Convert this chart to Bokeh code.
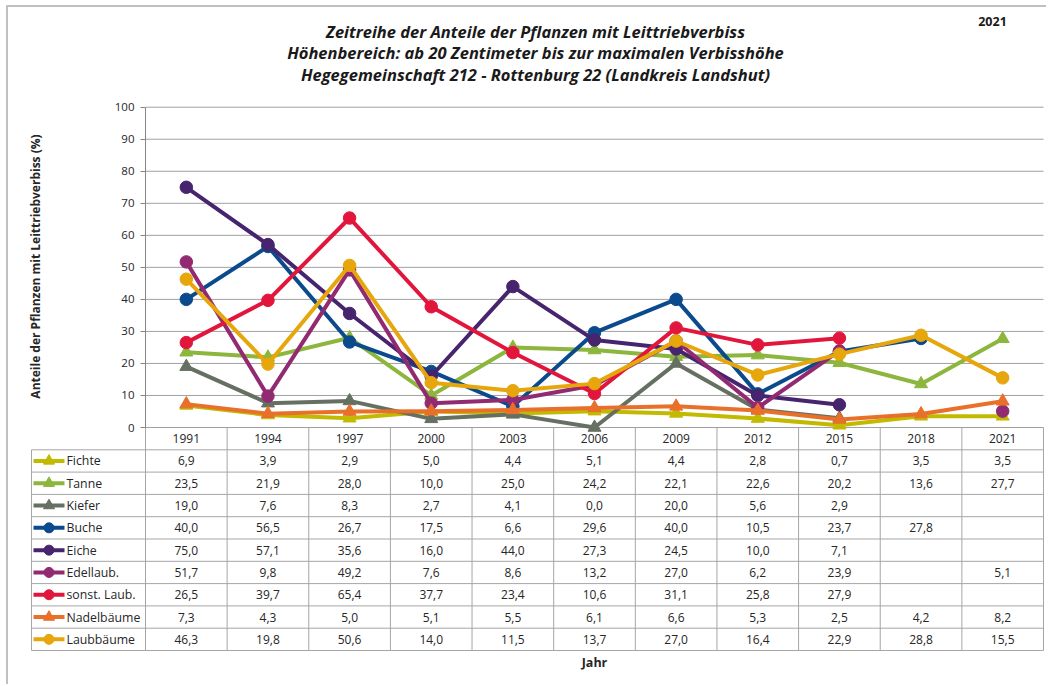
import math
from bokeh.plotting import figure
from bokeh.models import Range1d, FixedTicker, ColumnDataSource
from bokeh.embed import file_html
from bokeh.resources import INLINE
from bokeh.core.properties import value

# ---------------- data ----------------
years = ["1991", "1994", "1997", "2000", "2003", "2006", "2009", "2012", "2015", "2018", "2021"]
fichte = [6.9, 3.9, 2.9, 5.0, 4.4, 5.1, 4.4, 2.8, 0.7, 3.5, 3.5]
tanne = [23.5, 21.9, 28.0, 10.0, 25.0, 24.2, 22.1, 22.6, 20.2, 13.6, 27.7]
kiefer = [19.0, 7.6, 8.3, 2.7, 4.1, 0.0, 20.0, 5.6, 2.9, None, None]
buche = [40.0, 56.5, 26.7, 17.5, 6.6, 29.6, 40.0, 10.5, 23.7, 27.8, None]
eiche = [75.0, 57.1, 35.6, 16.0, 44.0, 27.3, 24.5, 10.0, 7.1, None, None]
edellaub = [51.7, 9.8, 49.2, 7.6, 8.6, 13.2, 27.0, 6.2, 23.9, None, 5.1]
sonst_laub = [26.5, 39.7, 65.4, 37.7, 23.4, 10.6, 31.1, 25.8, 27.9, None, None]
nadelbaeume = [7.3, 4.3, 5.0, 5.1, 5.5, 6.1, 6.6, 5.3, 2.5, 4.2, 8.2]
laubbaeume = [46.3, 19.8, 50.6, 14.0, 11.5, 13.7, 27.0, 16.4, 22.9, 28.8, 15.5]

series_names = ["Fichte", "Tanne", "Kiefer", "Buche", "Eiche", "Edellaub.",
                "sonst. Laub.", "Nadelbäume", "Laubbäume"]
series_values = [fichte, tanne, kiefer, buche, eiche, edellaub, sonst_laub, nadelbaeume, laubbaeume]
series_colors = ["#C2BA00", "#8DB63C", "#667062", "#0B4A8C", "#46246E", "#922A72",
                 "#E2163C", "#E8702A", "#E6A60C"]
series_markers = ["triangle", "triangle", "triangle", "circle", "circle", "circle",
                  "circle", "triangle", "circle"]

title_lines = ["Zeitreihe der Anteile der Pflanzen mit Leittriebverbiss",
               "Höhenbereich: ab 20 Zentimeter bis zur maximalen Verbisshöhe",
               "Hegegemeinschaft 212 - Rottenburg 22 (Landkreis Landshut)"]
corner_label = "2021"
y_label = "Anteile der Pflanzen mit Leittriebverbiss (%)"
x_label = "Jahr"
y_ticks = [0, 10, 20, 30, 40, 50, 60, 70, 80, 90, 100]

FONT = "Open Sans"
TEXT_COL = "#262626"
GRID_COL = "#A0A0A0"
TLINE = "#A6A6A6"
BORDER_COL = "#C0C0C0"

nan = float("nan")
xs = list(range(len(years)))
n_rows = len(series_names)

# ---------------- layout constants (page pixels) ----------------
OFF = 0                 # page offset of canvas
W, H = 1046, 684
U = 898 / 11.0          # px per category
PLOT_LEFT = 145         # page x of category area left edge
Y0_PAGE, Y100_PAGE = 427.0, 106.7
PX_Y = (Y0_PAGE - Y100_PAGE) / 100.0
ROW = 22.3              # table row height (px)

def xd(page_x):
    return -0.5 + (page_x - PLOT_LEFT) / U

def yd(page_y):
    return (Y0_PAGE - page_y) / PX_Y

def row_y(r):
    return -r * ROW / PX_Y

p = figure(width=W, height=H,
           x_range=Range1d(xd(OFF), xd(OFF + W)),
           y_range=Range1d(yd(OFF + H), yd(OFF)),
           min_border_left=0, min_border_right=0, min_border_top=0, min_border_bottom=0,
           x_axis_location=None, y_axis_location="left", toolbar_location=None,
           output_backend="svg", outline_line_color=None,
           background_fill_color="white", border_fill_color="white")
p.xgrid.visible = False
p.ygrid.visible = False

# outer chart border (top and left edges visible)
p.segment(x0=[xd(6), xd(6.5)], y0=[yd(5.5), yd(5)], x1=[xd(W + 10), xd(6.5)], y1=[yd(5.5), yd(H + 10)],
          line_color=BORDER_COL, line_width=2)

yax = p.yaxis[0]
yax.fixed_location = -0.5
yax.bounds = (0, 100)
yax.ticker = FixedTicker(ticks=y_ticks)
yax.axis_line_color = "#868686"
yax.major_tick_line_color = "#868686"
yax.major_tick_out = 5
yax.major_tick_in = 0
yax.minor_tick_line_color = None
yax.major_label_standoff = 6
yax.major_label_text_font = FONT
yax.major_label_text_font_size = "11.5px"
yax.major_label_text_color = TEXT_COL

right_edge = -0.5 + len(years)
# horizontal grid lines of the value axis
p.segment(x0=[-0.5] * len(y_ticks), y0=y_ticks, x1=[right_edge] * len(y_ticks), y1=y_ticks,
          line_color=GRID_COL, line_width=1)

# ---------------- data table ----------------
label_left = xd(31)
hx0, hx1, hy = [], [], []
for r in range(1, n_rows + 2):
    hx0.append(label_left); hx1.append(right_edge); hy.append(row_y(r))
p.segment(x0=hx0, y0=hy, x1=hx1, y1=hy, line_color=TLINE, line_width=1)
vx, vy0, vy1 = [], [], []
for k in range(len(years) + 1):
    vx.append(-0.5 + k); vy0.append(0); vy1.append(row_y(n_rows + 1))
vx.append(label_left); vy0.append(row_y(1)); vy1.append(row_y(n_rows + 1))
p.segment(x0=vx, y0=vy0, x1=vx, y1=vy1, line_color=TLINE, line_width=1)

p.text(x=xs, y=[row_y(0.5)] * len(years), text=years, text_align="center",
       text_baseline="middle", text_font=value(FONT), text_font_size="12px",
       text_color=TEXT_COL)

cx, cy, ct = [], [], []
for i, vals in enumerate(series_values):
    for j, v in enumerate(vals):
        if v is None:
            continue
        cx.append(j); cy.append(row_y(i + 1.5)); ct.append(f"{v:.1f}".replace(".", ","))
p.text(x=cx, y=cy, text=ct, text_align="center", text_baseline="middle",
       text_font=value(FONT), text_font_size="12px", text_color=TEXT_COL)

key_x0, key_x1 = xd(33), xd(64)
key_xm = (key_x0 + key_x1) / 2
for i, (col, mk) in enumerate(zip(series_colors, series_markers)):
    yy = row_y(i + 1.5)
    p.line([key_x0, key_x1], [yy, yy], line_color=col, line_width=4)
    p.scatter([key_xm], [yy], marker=mk, size=10 if mk == "circle" else 11,
              fill_color=col, line_color=col)
p.text(x=[xd(66)] * n_rows, y=[row_y(i + 1.5) for i in range(n_rows)], text=series_names,
       text_align="left", text_baseline="middle", text_font=value(FONT),
       text_font_size="12.3px", text_color=TEXT_COL)

# ---------------- series ----------------
for name, vals, col, mk in zip(series_names, series_values, series_colors, series_markers):
    yv = [nan if v is None else v for v in vals]
    src = ColumnDataSource(dict(x=xs, y=yv))
    p.line("x", "y", source=src, line_color=col, line_width=4, line_join="round")
    p.scatter("x", "y", source=src, marker=mk, size=12.5 if mk == "circle" else 13,
              fill_color=col, line_color=col)

# ---------------- titles & axis titles ----------------
p.text(x=[xd(535)] * 3, y=[yd(31), yd(52), yd(74)], text=title_lines,
       text_align="center", text_baseline="middle", text_font=value(FONT),
       text_font_style="bold italic", text_font_size="16.5px", text_color="#1a1a1a")
p.text(x=[xd(992)], y=[yd(21)], text=[corner_label], text_align="center",
       text_baseline="middle", text_font=value(FONT), text_font_style="bold",
       text_font_size="12.5px", text_color="#1a1a1a")
p.text(x=[xd(35)], y=[yd(266)], text=[y_label], angle=math.pi / 2,
       text_align="center", text_baseline="middle", text_font=value(FONT),
       text_font_style="bold", text_font_size="12px", text_color=TEXT_COL)
p.text(x=[xd(594)], y=[yd(662)], text=[x_label], text_align="center",
       text_baseline="middle", text_font=value(FONT), text_font_style="bold",
       text_font_size="12.5px", text_color=TEXT_COL)

open("out.html", "w").write(file_html(p, INLINE))
